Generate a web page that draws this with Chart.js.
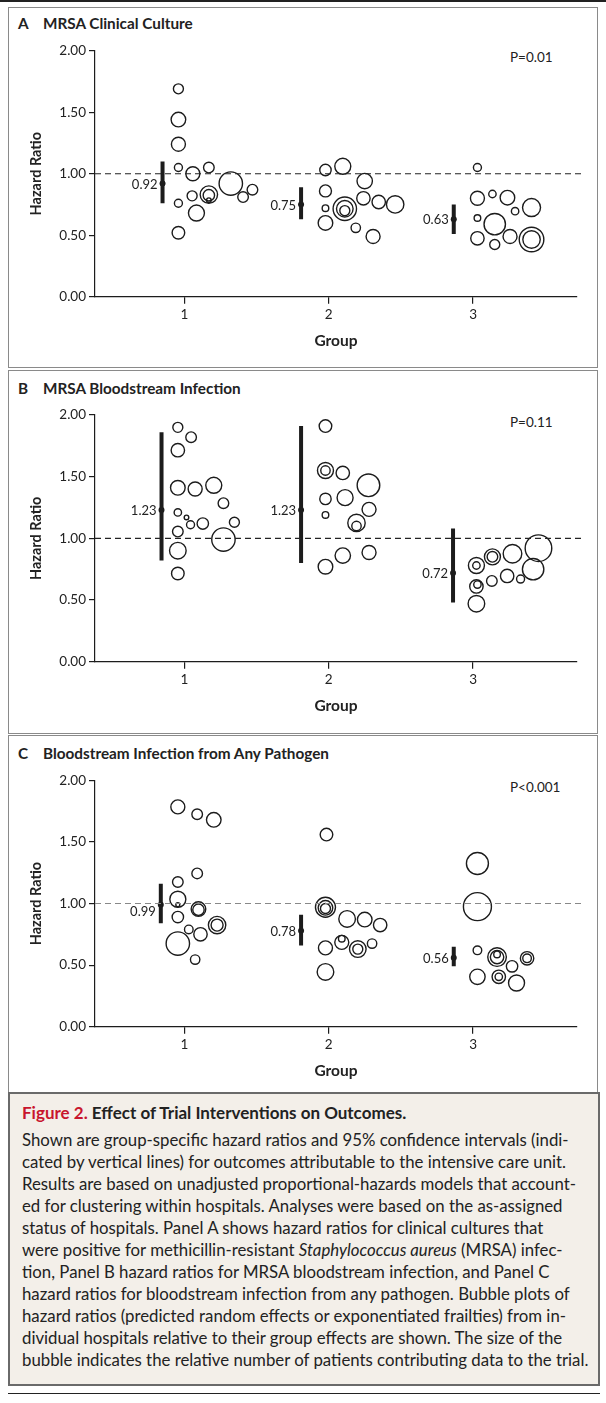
<!DOCTYPE html>
<html>
<head>
<meta charset="utf-8">
<script src="https://cdn.jsdelivr.net/npm/chart.js@4.4.0/dist/chart.umd.min.js"></script>
<style>
  body { margin: 0; background: #fff; font-family: Lato, "Open Sans", sans-serif; color: #222; }
  #page { position: relative; width: 606px; height: 1403px; }
  .topline { position: absolute; left: 0; top: 0; width: 606px; height: 2px; background: #222; }
  .panel { position: absolute; left: 8px; width: 590px; border: 1px solid #8a8a8a; box-sizing: border-box; background: #fff; }
  .ptitle { position: absolute; left: 9px; font-weight: bold; font-size: 15.3px; line-height: 16px; white-space: nowrap; }
  .ptitle span { display: inline-block; width: 25px; }
  .pval { position: absolute; left: 501px; font-size: 13.5px; line-height: 16px; }
  .panel canvas { position: absolute; left: 0; top: 29px; }
  .caption { position: absolute; left: 8px; top: 1092px; width: 592px; height: 294px; background: #f3efe9;
             border: 2px solid #6a6a6a; box-sizing: border-box; padding: 8px 0 0 12px; }
  .caption .ct { font-weight: bold; font-size: 17px; line-height: 22px; }
  .caption .ct em { font-style: normal; color: #c8152d; }
  .caption .body { margin-top: 5px; font-size: 16.8px; line-height: 22px; white-space: pre; }
  .bottomline { position: absolute; left: 8px; top: 1393px; width: 592px; height: 1px; background: #222; }
</style>
</head>
<body>
<div id="page">
  <div class="topline"></div>

  <div class="panel" style="top:7px;height:361px;">
    <div class="ptitle" style="top:7px;"><span>A</span>MRSA Clinical Culture</div>
    <div class="pval" style="top:41px;">P=0.01</div>
    <canvas id="chartA" width="588" height="320"></canvas>
  </div>

  <div class="panel" style="top:370px;height:364px;">
    <div class="ptitle" style="top:9px;"><span>B</span>MRSA Bloodstream Infection</div>
    <div class="pval" style="top:43px;">P=0.11</div>
    <canvas id="chartB" width="588" height="320"></canvas>
  </div>

  <div class="panel" style="top:735px;height:358px;">
    <div class="ptitle" style="top:9px;"><span>C</span>Bloodstream Infection from Any Pathogen</div>
    <div class="pval" style="top:43px;">P&lt;0.001</div>
    <canvas id="chartC" width="588" height="320"></canvas>
  </div>

  <div class="caption">
    <div class="ct"><em>Figure 2.</em> Effect of Trial Interventions on Outcomes.</div>
<div class="body">Shown are group-specific hazard ratios and 95% confidence intervals (indi-
cated by vertical lines) for outcomes attributable to the intensive care unit.
Results are based on unadjusted proportional-hazards models that account-
ed for clustering within hospitals. Analyses were based on the as-assigned
status of hospitals. Panel A shows hazard ratios for clinical cultures that
were positive for methicillin-resistant <i>Staphylococcus aureus</i> (MRSA) infec-
tion, Panel B hazard ratios for MRSA bloodstream infection, and Panel C
hazard ratios for bloodstream infection from any pathogen. Bubble plots of
hazard ratios (predicted random effects or exponentiated frailties) from in-
dividual hospitals relative to their group effects are shown. The size of the
bubble indicates the relative number of patients contributing data to the trial.</div>
  </div>
  <div class="bottomline"></div>
</div>

<script>
// groups on the x axis, hazard-ratio ticks
const GROUPS = [1, 2, 3];
const Y_TICKS = [0, 0.5, 1, 1.5, 2];
const REF_HR = 1.0;

// hospitals: [x (group + jitter), hazard ratio, bubble size]
const A_HOSP = [
  [0.958, 1.69, 5], [0.958, 1.44, 7.3], [0.958, 1.24, 7], [0.958, 1.05, 4], [1.058, 1.00, 7],
  [1.169, 1.05, 5.3], [1.321, 0.92, 11.7], [1.471, 0.87, 5.3], [1.406, 0.81, 5.3],
  [1.169, 0.83, 8.7], [1.169, 0.825, 5.7], [1.169, 0.785, 2.3], [1.053, 0.82, 5],
  [0.958, 0.76, 4], [1.083, 0.68, 8], [0.958, 0.52, 6.3],
  [1.977, 1.03, 5.7], [2.097, 1.06, 8], [2.249, 0.94, 7.7], [1.977, 0.86, 6], [2.240, 0.80, 6.7],
  [2.346, 0.77, 6.7], [2.460, 0.75, 8.7], [1.977, 0.72, 3.3], [2.111, 0.715, 11.7],
  [2.111, 0.715, 8.3], [2.111, 0.70, 5], [1.977, 0.60, 7.3], [2.187, 0.56, 4.7], [2.307, 0.49, 7],
  [3.030, 1.05, 4], [3.030, 0.80, 7], [3.134, 0.835, 3.7], [3.238, 0.805, 7.3], [3.405, 0.725, 9],
  [3.291, 0.695, 3.7], [3.030, 0.64, 3.3], [3.150, 0.59, 10.7], [3.030, 0.475, 6.7],
  [3.150, 0.425, 5], [3.256, 0.49, 7], [3.405, 0.465, 12.3], [3.405, 0.465, 8.7]
];
const A_CI_X = [0.848, 1.808, 2.866];
const A_EST = [0.92, 0.75, 0.63];
const A_LO = [0.76, 0.63, 0.51];
const A_HI = [1.10, 0.89, 0.75];

const B_HOSP = [
  [0.954, 1.90, 5], [1.046, 1.82, 5.3], [0.954, 1.715, 6.7], [0.954, 1.41, 7.3], [1.074, 1.40, 7],
  [1.203, 1.43, 8], [1.270, 1.285, 5.3], [0.954, 1.21, 3.7], [1.014, 1.17, 2.3], [1.042, 1.11, 4],
  [1.127, 1.12, 5.7], [1.346, 1.13, 5], [0.954, 1.055, 5.3], [1.270, 0.99, 11.7],
  [0.954, 0.90, 8.3], [0.954, 0.715, 6.3],
  [1.977, 1.91, 6.3], [1.977, 1.55, 8], [1.977, 1.55, 4.7], [2.097, 1.53, 6.7], [2.275, 1.43, 11.3],
  [1.977, 1.32, 5.7], [2.113, 1.33, 8], [2.279, 1.235, 7], [1.977, 1.19, 3.3], [2.192, 1.125, 8.7],
  [2.192, 1.10, 4.7], [2.097, 0.86, 7.7], [2.279, 0.885, 7], [1.977, 0.77, 7.3],
  [3.023, 0.78, 8], [3.023, 0.78, 3.7], [3.134, 0.85, 8], [3.134, 0.85, 5.3], [3.273, 0.875, 9.3],
  [3.453, 0.92, 13.3], [3.416, 0.75, 10.7], [3.236, 0.695, 6.7], [3.329, 0.67, 4],
  [3.130, 0.655, 5.3], [3.023, 0.61, 6.7], [3.030, 0.625, 3.7], [3.023, 0.47, 8.3]
];
const B_CI_X = [0.841, 1.808, 2.861];
const B_EST = [1.23, 1.23, 0.72];
const B_LO = [0.82, 0.80, 0.48];
const B_HI = [1.86, 1.91, 1.08];

const C_HOSP = [
  [0.954, 1.785, 7], [1.088, 1.725, 5.3], [1.203, 1.68, 7.3], [1.088, 1.245, 5.3], [0.954, 1.175, 5.3],
  [0.954, 1.035, 8], [0.954, 0.99, 2], [1.097, 0.955, 7.3], [1.097, 0.95, 5.7], [0.954, 0.89, 5.7],
  [1.226, 0.825, 8.7], [1.226, 0.825, 6], [1.030, 0.79, 4.3], [1.111, 0.75, 6.7],
  [0.954, 0.675, 11.7], [1.074, 0.545, 4.7],
  [1.984, 1.56, 6.3], [1.977, 0.97, 10], [1.977, 0.965, 7.3], [1.977, 0.96, 5], [2.127, 0.875, 8.3],
  [2.249, 0.87, 7.3], [2.356, 0.825, 6.7], [1.977, 0.64, 7], [2.090, 0.685, 7], [2.090, 0.715, 3.3],
  [2.201, 0.63, 8.3], [2.201, 0.63, 5], [2.300, 0.675, 4.7], [1.977, 0.445, 8.3],
  [3.030, 1.325, 11], [3.030, 0.975, 14], [3.030, 0.62, 4.3], [3.166, 0.565, 9.3], [3.166, 0.565, 6.7],
  [3.166, 0.587, 3.3], [3.270, 0.49, 5.7], [3.374, 0.555, 6.7], [3.374, 0.555, 4.3],
  [3.030, 0.405, 7.7], [3.178, 0.405, 6.7], [3.178, 0.405, 3.7], [3.301, 0.355, 8]
];
const C_CI_X = [0.836, 1.808, 2.866];
const C_EST = [0.99, 0.78, 0.56];
const C_LO = [0.84, 0.66, 0.49];
const C_HI = [1.16, 0.91, 0.65];

const X_MIN = 0.38, X_MAX = 3.72;
const FONT = 'Lato, "Open Sans", sans-serif';
const INK = '#1c1c1c';

// writes the estimate next to each CI point (dropped a bit when it sits on the reference line)
const estLabels = {
  id: 'estLabels',
  afterDatasetsDraw(chart, args, opts) {
    const { ctx, scales: { x, y } } = chart;
    ctx.save();
    ctx.font = '13px ' + FONT;
    ctx.fillStyle = '#222';
    ctx.textAlign = 'right';
    ctx.textBaseline = 'middle';
    opts.xs.forEach((xv, i) => {
      const v = opts.est[i];
      const drop = Math.abs(v - REF_HR) < 0.03 ? 7 : 1;
      ctx.fillText(v.toFixed(2), x.getPixelForValue(xv) - 5, y.getPixelForValue(v) + drop);
    });
    ctx.restore();
  }
};

function makePanel(id, hosp, ciX, est, lo, hi, refColor, padTop) {
  const H = 320;
  const plotH = 246.7;
  const datasets = [];
  datasets.push({
    type: 'line', data: [{ x: X_MIN, y: REF_HR }, { x: X_MAX + 0.04, y: REF_HR }],
    borderColor: refColor, borderWidth: 1.1, borderDash: [6, 4], pointRadius: 0, clip: false
  });
  ciX.forEach((xv, i) => {
    datasets.push({
      type: 'line', data: [{ x: xv, y: lo[i] }, { x: xv, y: hi[i] }],
      borderColor: INK, borderWidth: 4, borderCapStyle: 'butt', pointRadius: 0
    });
  });
  datasets.push({
    type: 'scatter', data: ciX.map((xv, i) => ({ x: xv, y: est[i] })),
    pointRadius: 3, backgroundColor: INK, borderWidth: 0
  });
  datasets.push({
    type: 'bubble', data: hosp.map(h => ({ x: h[0], y: h[1], r: h[2] })),
    borderColor: INK, borderWidth: 1.4, backgroundColor: 'rgba(0,0,0,0)'
  });

  new Chart(document.getElementById(id), {
    type: 'bubble',
    data: { datasets },
    plugins: [estLabels],
    options: {
      responsive: false,
      animation: false,
      events: [],
      layout: { padding: { top: padTop, right: 20, left: 0, bottom: 0 } },
      plugins: {
        legend: { display: false },
        tooltip: { enabled: false },
        estLabels: { xs: ciX, est }
      },
      scales: {
        x: {
          type: 'linear', min: X_MIN, max: X_MAX,
          afterBuildTicks: s => { s.ticks = GROUPS.map(v => ({ value: v })); },
          afterFit: s => { s.height = H - padTop - plotH; },
          ticks: { color: '#222', font: { family: FONT, size: 13.5 }, padding: 3 },
          grid: { drawOnChartArea: false, drawTicks: true, tickLength: 7, color: INK, lineWidth: 1.2 },
          border: { color: INK, width: 1.2 },
          title: {
            display: true, text: 'Group', color: '#222',
            font: { family: FONT, size: 15.5, weight: 'bold' },
            padding: { top: 0, bottom: H - 9.3 - (padTop + 291) }
          }
        },
        y: {
          type: 'linear', min: 0, max: 2,
          afterBuildTicks: s => { s.ticks = Y_TICKS.map(v => ({ value: v })); },
          afterFit: s => { s.width = 86; },
          ticks: { color: '#222', font: { family: FONT, size: 13.5 }, padding: 3, callback: v => v.toFixed(2) },
          grid: { drawOnChartArea: false, drawTicks: true, tickLength: 6, color: INK, lineWidth: 1.2 },
          border: { color: INK, width: 1.2 },
          title: {
            display: true, text: 'Hazard Ratio', color: '#222',
            font: { family: FONT, size: 14.5, weight: 'bold' },
            padding: { top: 18.3, bottom: 0 }
          }
        }
      }
    }
  });
}

makePanel('chartA', A_HOSP, A_CI_X, A_EST, A_LO, A_HI, '#222', 13);
makePanel('chartB', B_HOSP, B_CI_X, B_EST, B_LO, B_HI, '#222', 15);
makePanel('chartC', C_HOSP, C_CI_X, C_EST, C_LO, C_HI, '#888', 15);
</script>
</body>
</html>
